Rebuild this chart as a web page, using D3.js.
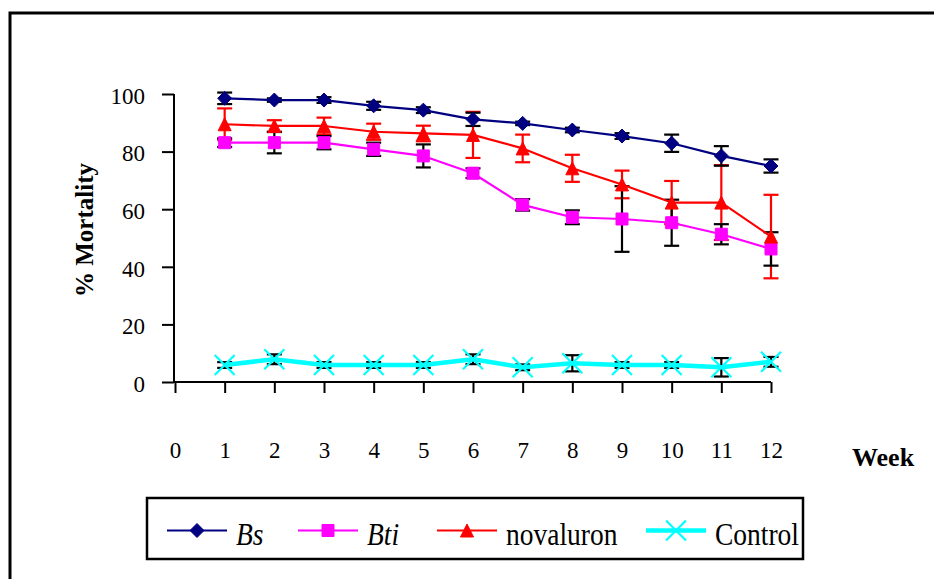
<!DOCTYPE html>
<html>
<head>
<meta charset="utf-8">
<script src="https://cdn.jsdelivr.net/npm/d3@7"></script>
<style>
  body { margin: 0; background: #fff; }
  svg { display: block; }
</style>
</head>
<body>
<section></section>
<script>
// Weeks and tick values
const WEEKS = [1, 2, 3, 4, 5, 6, 7, 8, 9, 10, 11, 12];
const X_TICKS = [0, 1, 2, 3, 4, 5, 6, 7, 8, 9, 10, 11, 12];
const Y_TICKS = [0, 20, 40, 60, 80, 100];
const SERIES_NAMES = ["Bs", "Bti", "novaluron", "Control"];

// % mortality, mean and error per week
const bsMean = [98.5, 97.9, 97.9, 95.9, 94.4, 91.2, 89.8, 87.5, 85.4, 82.9, 78.5, 75.0];
const bsErr = [2.0, 0.6, 1.0, 1.4, 1.0, 2.3, 0.6, 0.8, 1.0, 3.0, 3.4, 2.3];
const btiMean = [83.1, 83.1, 83.1, 80.8, 78.5, 72.5, 61.5, 57.2, 56.6, 55.3, 51.3, 46.2];
const btiErr = [1.5, 3.7, 2.3, 2.3, 4.0, 1.7, 2.0, 2.4, 11.4, 8.0, 3.5, 5.8];
const novMean = [89.5, 88.9, 88.9, 86.9, 86.3, 85.8, 81.1, 74.2, 68.6, 62.3, 62.3, 50.5];
const novErr = [5.5, 2.0, 2.9, 2.8, 2.7, 8.0, 4.8, 4.7, 4.8, 7.5, 13.0, 14.5];
const ctrlMean = [5.9, 7.9, 5.9, 5.9, 5.9, 7.9, 5.1, 6.5, 5.9, 5.9, 5.1, 7.0];
const ctrlErr = [1.0, 1.7, 1.0, 1.0, 1.0, 1.7, 1.0, 2.8, 1.0, 1.0, 3.2, 1.7];

const WIDTH = 934;
const HEIGHT = 579;

// custom marker shapes
const diamond = { draw(ctx, r) { ctx.moveTo(0, -r); ctx.lineTo(r, 0); ctx.lineTo(0, r); ctx.lineTo(-r, 0); ctx.closePath(); } };
const square = { draw(ctx, r) { ctx.rect(-r, -r, 2 * r, 2 * r); } };
const triangle = { draw(ctx, r) { ctx.moveTo(0, -r); ctx.lineTo(r, r); ctx.lineTo(-r, r); ctx.closePath(); } };
const cross = { draw(ctx, r) { ctx.moveTo(-r, -r); ctx.lineTo(r, r); ctx.moveTo(-r, r); ctx.lineTo(r, -r); } };

const series = [
  { name: SERIES_NAMES[0], mean: bsMean, err: bsErr, color: "#000080", width: 2.2, shape: diamond, r: 7, fill: true, errColor: "#000", italic: true },
  { name: SERIES_NAMES[1], mean: btiMean, err: btiErr, color: "#ff00ff", width: 2.2, shape: square, r: 6, fill: true, errColor: "#000", italic: true },
  { name: SERIES_NAMES[2], mean: novMean, err: novErr, color: "#ff0000", width: 2.2, shape: triangle, r: 6.5, fill: true, errColor: "#ff0000", italic: false },
  { name: SERIES_NAMES[3], mean: ctrlMean, err: ctrlErr, color: "#00ffff", width: 4.5, shape: cross, r: 10, fill: false, errColor: "#000", italic: false }
];

const svg = d3.select("section")
  .append("svg")
  .attr("width", WIDTH)
  .attr("height", HEIGHT)
  .style("font-family", "'Liberation Serif', 'Times New Roman', serif");

// outer frame (runs off the right and bottom)
svg.append("rect")
  .attr("x", 10).attr("y", 13)
  .attr("width", 1000).attr("height", 1000)
  .attr("fill", "none").attr("stroke", "#000").attr("stroke-width", 3);

const xScale = d3.scaleLinear().domain([0, 12]).range([175, 771]);
const yScale = d3.scaleLinear().domain([0, 100]).range([382, 94]);

// axes
const yAxis = d3.axisLeft(yScale).tickValues(Y_TICKS).tickSize(12).tickSizeOuter(0).tickPadding(17);
const xAxis = d3.axisBottom(xScale).tickValues(X_TICKS).tickSize(11).tickSizeOuter(0).tickPadding(49);

const gy = svg.append("g").attr("transform", "translate(174,0)").call(yAxis);
const gx = svg.append("g").attr("transform", "translate(0,382)").call(xAxis);

[gx, gy].forEach(g => {
  g.select(".domain").attr("stroke", "#000").attr("stroke-width", 2);
  g.selectAll(".tick line").attr("stroke", "#000").attr("stroke-width", 2);
  g.selectAll(".tick text").attr("fill", "#000")
    .style("font-family", "'Liberation Serif', serif").style("font-size", "23px");
});
gy.selectAll(".tick text").attr("dy", "0.4em");
gy.select(".domain").attr("d", "M0," + yScale(100) + "V" + yScale(0));
gx.select(".domain").attr("d", "M174,0H" + xScale(12));

// axis titles
svg.append("text")
  .attr("transform", "translate(93,230) rotate(-90)")
  .attr("text-anchor", "middle")
  .style("font-size", "25px").style("font-weight", "bold")
  .text("% Mortality");

svg.append("text")
  .attr("x", 852).attr("y", 466)
  .style("font-size", "26px").style("font-weight", "bold")
  .text("Week");

// error bars: red ones first, black on top
const errOrder = [series[2], series[0], series[1], series[3]];
errOrder.forEach(s => {
  const g = svg.append("g").attr("stroke", s.errColor).attr("stroke-width", 2.2).attr("fill", "none");
  WEEKS.forEach((w, i) => {
    const cx = xScale(w);
    const top = yScale(s.mean[i] + s.err[i]);
    const bot = yScale(s.mean[i] - s.err[i]);
    g.append("line").attr("x1", cx).attr("x2", cx).attr("y1", top).attr("y2", bot);
    g.append("line").attr("x1", cx - 7.5).attr("x2", cx + 7.5).attr("y1", top).attr("y2", top);
    g.append("line").attr("x1", cx - 7.5).attr("x2", cx + 7.5).attr("y1", bot).attr("y2", bot);
  });
});

const line = d3.line().x((d, i) => xScale(WEEKS[i])).y(d => yScale(d));

series.forEach(s => {
  svg.append("path")
    .datum(s.mean)
    .attr("d", line)
    .attr("fill", "none")
    .attr("stroke", s.color)
    .attr("stroke-width", s.width)
    .attr("stroke-linejoin", "round");

  svg.selectAll(null)
    .data(s.mean)
    .enter()
    .append("path")
    .attr("transform", (d, i) => "translate(" + xScale(WEEKS[i]) + "," + yScale(d) + ")")
    .attr("d", d3.symbol().type(s.shape).size(s.r))
    .attr("fill", s.fill ? s.color : "none")
    .attr("stroke", s.color)
    .attr("stroke-width", s.fill ? 1 : 2.2);
});

// legend
svg.append("rect")
  .attr("x", 147).attr("y", 498)
  .attr("width", 656).attr("height", 61)
  .attr("fill", "#fff").attr("stroke", "#000").attr("stroke-width", 2.5);

const legendX = [167, 298, 437, 646];
const legendY = 530.5;
series.forEach((s, i) => {
  const x0 = legendX[i];
  const g = svg.append("g");
  g.append("line")
    .attr("x1", x0).attr("x2", x0 + 60)
    .attr("y1", legendY).attr("y2", legendY)
    .attr("stroke", s.color).attr("stroke-width", s.width);
  g.append("path")
    .attr("transform", "translate(" + (x0 + 30) + "," + legendY + ")")
    .attr("d", d3.symbol().type(s.shape).size(s.r))
    .attr("fill", s.fill ? s.color : "none")
    .attr("stroke", s.color)
    .attr("stroke-width", s.fill ? 1 : 2.2);
  g.append("text")
    .attr("transform", "translate(" + (x0 + 69) + ",545) scale(1,1.15)")
    .style("font-size", "27.5px")
    .style("font-style", s.italic ? "italic" : "normal")
    .text(s.name);
});
</script>
</body>
</html>
